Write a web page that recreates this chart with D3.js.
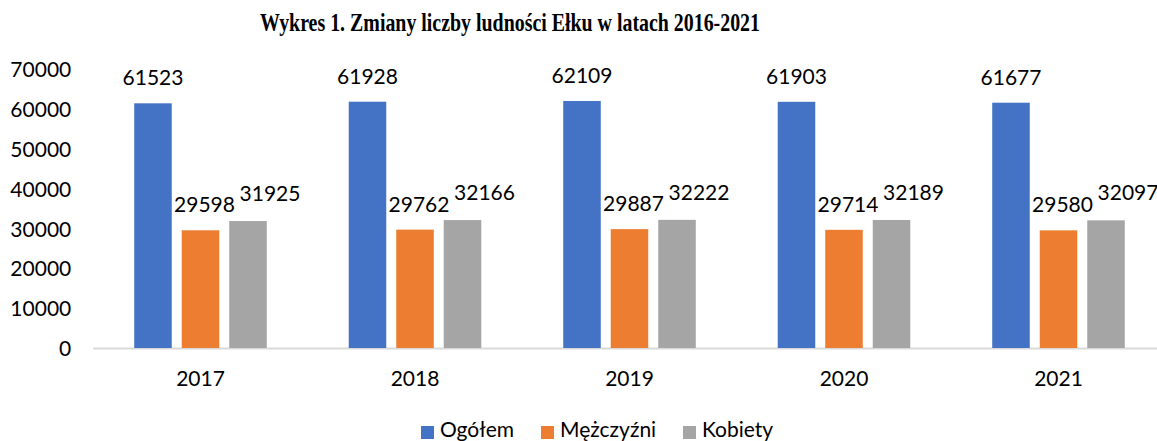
<!DOCTYPE html>
<html>
<head>
<meta charset="utf-8">
<script src="https://cdn.jsdelivr.net/npm/d3@7"></script>
<style>
  body { margin: 0; background: #fff; }
  svg { display: block; }
</style>
</head>
<body>
<svg id="chart"></svg>
<script>
// data
const years = ["2017", "2018", "2019", "2020", "2021"];
const series = ["Ogółem", "Mężczyźni", "Kobiety"];
const ogolem = [61523, 61928, 62109, 61903, 61677];
const mezczyzni = [29598, 29762, 29887, 29714, 29580];
const kobiety = [31925, 32166, 32222, 32189, 32097];
const yTicks = [0, 10000, 20000, 30000, 40000, 50000, 60000, 70000];

const colors = ["#4472C4", "#ED7D31", "#A5A5A5"];
// label nudges like Excel does to avoid overlap
const labelDx = [0, 4, 22];
const labelGap = [18, 18, 20];

const svgWidth = 1157, svgHeight = 441;
const margin = { top: 69.6, right: -8.75, bottom: 93, left: 93.25 };
const width = svgWidth - margin.left - margin.right;
const height = svgHeight - margin.top - margin.bottom;

const svg = d3.select("#chart")
  .attr("width", svgWidth)
  .attr("height", svgHeight);

const font = "Lato, 'Open Sans', sans-serif";

svg.append("text")
  .attr("x", 510)
  .attr("y", 31)
  .attr("text-anchor", "middle")
  .attr("font-family", "'Liberation Serif', 'Times New Roman', serif")
  .attr("font-weight", "bold")
  .attr("font-size", 26)
  .attr("textLength", 500)
  .attr("lengthAdjust", "spacingAndGlyphs")
  .text("Wykres 1. Zmiany liczby ludności Ełku w latach 2016-2021");

const g = svg.append("g")
  .attr("transform", "translate(" + margin.left + "," + margin.top + ")");

const x0 = d3.scaleBand()
  .domain(years)
  .range([0, width])
  .paddingInner(0.382)
  .paddingOuter(0.191);

const x1 = d3.scaleBand()
  .domain(series)
  .range([0, x0.bandwidth()])
  .paddingInner(0.21)
  .paddingOuter(0);

const y = d3.scaleLinear()
  .domain([0, 70000])
  .range([height, 0]);

// y tick labels (no visible axis line)
const yAxis = g.append("g")
  .call(d3.axisLeft(y).tickValues(yTicks).tickSize(0).tickPadding(22).tickFormat(d3.format("d")));
yAxis.select(".domain").remove();
yAxis.selectAll("text")
  .attr("font-family", font)
  .attr("font-size", 21)
  .attr("fill", "#000")
  .attr("dy", "0.35em");

// x axis baseline
g.append("line")
  .attr("x1", 0)
  .attr("x2", svgWidth - margin.left)
  .attr("y1", y(0) + 0.5)
  .attr("y2", y(0) + 0.5)
  .attr("stroke", "#D9D9D9")
  .attr("stroke-width", 2);

const xAxis = g.append("g")
  .attr("transform", "translate(0," + height + ")")
  .call(d3.axisBottom(x0).tickSize(0).tickPadding(23));
xAxis.select(".domain").remove();
xAxis.selectAll("text")
  .attr("font-family", font)
  .attr("font-size", 21)
  .attr("fill", "#000");

const rows = years.map((yr, i) => ({
  year: yr,
  values: [ogolem[i], mezczyzni[i], kobiety[i]].map((v, j) => ({ key: series[j], idx: j, value: v }))
}));

const groups = g.selectAll(".grp")
  .data(rows)
  .join("g")
  .attr("class", "grp")
  .attr("transform", d => "translate(" + x0(d.year) + ",0)");

groups.selectAll("rect")
  .data(d => d.values)
  .join("rect")
  .attr("x", d => x1(d.key))
  .attr("y", d => y(d.value))
  .attr("width", x1.bandwidth())
  .attr("height", d => y(0) - y(d.value))
  .attr("fill", d => colors[d.idx]);

groups.selectAll(".lbl")
  .data(d => d.values)
  .join("text")
  .attr("class", "lbl")
  .attr("x", d => x1(d.key) + x1.bandwidth() / 2 + labelDx[d.idx])
  .attr("y", d => y(d.value) - labelGap[d.idx])
  .attr("text-anchor", "middle")
  .attr("font-family", font)
  .attr("font-size", 21)
  .attr("fill", "#000")
  .text(d => d.value);

// legend
const legendX = [421, 541, 683];
const legend = svg.append("g");
series.forEach((s, i) => {
  legend.append("rect")
    .attr("x", legendX[i])
    .attr("y", 426)
    .attr("width", 13)
    .attr("height", 13)
    .attr("fill", colors[i]);
  legend.append("text")
    .attr("x", legendX[i] + 19)
    .attr("y", 437)
    .attr("font-family", font)
    .attr("font-size", 21)
    .attr("fill", "#000")
    .text(s);
});
</script>
</body>
</html>
